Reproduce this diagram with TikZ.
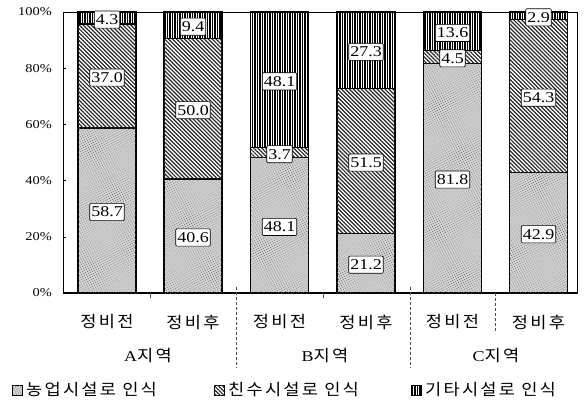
\documentclass[tikz,border=0pt]{standalone}
\usepackage{fontspec}
\setmainfont{Liberation Serif}[FakeStretch=1.2]
\newfontfamily\kr{Noto Sans CJK KR}[FakeStretch=1.1,LetterSpace=14]
\usetikzlibrary{patterns,patterns.meta}
\begin{document}
\begin{tikzpicture}[x=1pt,y=-1pt,
  agri/.style={fill=black!18, postaction={pattern={Dots[distance=2.2pt,radius=0.45pt,angle=27]}, pattern color=black!60}},
  hatch/.style={fill=white, postaction={pattern={Lines[angle=-45,distance=2.8pt,line width=1.2pt]}, pattern color=black!85}},
  vert/.style={fill=white, postaction={pattern={Lines[angle=90,distance=2.5pt,line width=1.1pt]}, pattern color=black}},
  barline/.style={draw=black, line width=1.2pt},
  vlab/.style={draw=black, line width=0.6pt, fill=white, rounded corners=1pt, inner xsep=1.5pt, inner ysep=3.5pt, font=\fontsize{15}{15}\selectfont},
  tlab/.style={anchor=east, font=\fontsize{12}{12}\selectfont, inner sep=0pt},
  cat/.style={font=\kr\fontsize{16}{16}\selectfont, inner sep=0pt},
  grp/.style={font=\fontsize{15}{15}\selectfont, inner sep=0pt},
  legsym/.style={draw=black, line width=0.8pt, minimum size=10pt, inner sep=0pt},
  legtxt/.style={anchor=west, font=\kr\fontsize{16}{16}\selectfont, inner sep=0pt},
  sep/.style={draw=black!70, line width=0.6pt, dashed, dash pattern=on 3pt off 2pt}
]
\useasboundingbox (0,0) rectangle (586,405);
\fill[white] (0,0) rectangle (586,405);
% frame
\draw[line width=0.8pt] (63,12) rectangle (577,293);
\draw[line width=1.3pt] (63,293) -- (577,293);
% y ticks and labels
\foreach \k/\t in {0/100\%,1/80\%,2/60\%,3/40\%,4/20\%,5/0\%}{
  \node[tlab] (t\k) at (52,{12+\k*56.2}) {\t};
  \draw[line width=0.6pt] (63,{12+\k*56.2}) -- (66,{12+\k*56.2});
}
% bars
\foreach \name/\cx/\a/\b/\c in {ab/107/58.7/37.0/4.3, aa/193/40.6/50.0/9.4, bb/279.5/48.1/3.7/48.1, ba/366/21.2/51.5/27.3, cb/452.5/81.8/4.5/13.6, ca/538.5/42.9/54.3/2.9}{
  \draw[agri, barline] ({\cx-29},293) rectangle ({\cx+29},{293-\a*2.81});
  \draw[hatch, barline] ({\cx-29},{293-\a*2.81}) rectangle ({\cx+29},{293-(\a+\b)*2.81});
  \draw[vert, barline] ({\cx-29},{293-(\a+\b)*2.81}) rectangle ({\cx+29},12);
  \node[vlab] (v1\name) at (\cx,{293-\a*1.405+1.5}) {\a};
  \node[vlab] (v2\name) at (\cx,{293-(\a+\b/2)*2.81+1.5}) {\b};
  \node[vlab] (v3\name) at (\cx,{293-(\a+\b+\c/2)*2.81+1.5}) {\c};
}
% category labels
\foreach \n/\cx/\t in {1/107/정비전, 2/193/정비후, 3/279.5/정비전, 4/366/정비후, 5/452.5/정비전, 6/538.5/정비후}{
  \node[cat] (c\n) at (\cx,322) {\t};
}
\node[grp] (ga) at (148,355) {A{\kr\fontsize{16}{16}\selectfont 지역}};
\node[grp] (gb) at (325,355) {B{\kr\fontsize{16}{16}\selectfont 지역}};
\node[grp] (gc) at (496,355) {C{\kr\fontsize{16}{16}\selectfont 지역}};
% separators
\draw[sep] (236,287) -- (236,368);
\draw[sep] (410,287) -- (410,368);
\draw[sep] (495,293) -- (495,333);
\draw[line width=0.6pt, black!70] (150,293) -- (150,298);
\draw[line width=0.6pt, black!70] (323,293) -- (323,298);
% legend
\node[legsym, agri] (s1) at (17,390) {};
\node[legtxt] (l1) at (26,390) {농업시설로 인식};
\node[legsym, hatch] (s2) at (219,390) {};
\node[legtxt] (l2) at (228,390) {친수시설로 인식};
\node[legsym, vert] (s3) at (416,390) {};
\node[legtxt] (l3) at (425,390) {기타시설로 인식};
\end{tikzpicture}
\end{document}
